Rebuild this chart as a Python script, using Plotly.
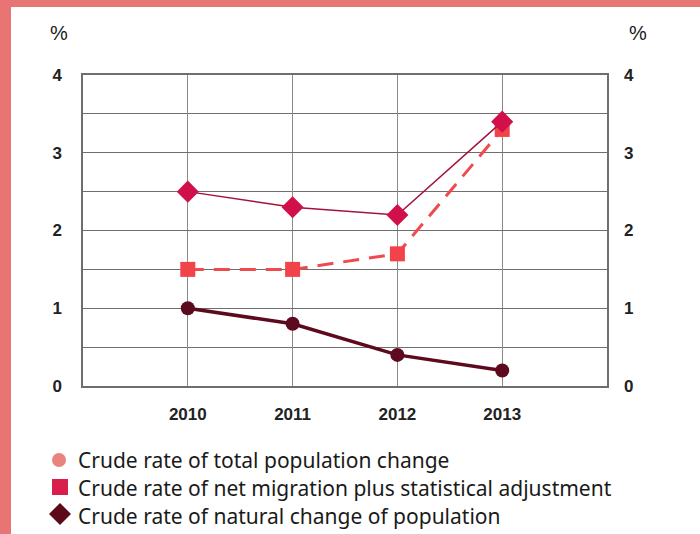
import plotly.graph_objects as go

# Years and series values (%)
years = [2010, 2011, 2012, 2013]
total_change = [2.5, 2.3, 2.2, 3.4]
net_migration = [1.5, 1.5, 1.7, 3.3]
natural_change = [1.0, 0.8, 0.4, 0.2]

y_ticks = [0, 1, 2, 3, 4]
x_tickvals = [2009, 2010, 2011, 2012, 2013, 2014]
x_ticktext = ["", "2010", "2011", "2012", "2013", ""]

legend_labels = [
    "Crude rate of total population change",
    "Crude rate of net migration plus statistical adjustment",
    "Crude rate of natural change of population",
]

W, H = 700, 534
ML, MR, MT, MB = 83, 93, 75, 148
PW, PH = W - ML - MR, H - MT - MB


def px_x(px):
    return (px - ML) / PW


def px_y(py):
    return (H - MB - py) / PH


fig = go.Figure()

fig.add_trace(go.Scatter(
    x=years, y=natural_change, mode="lines+markers",
    line=dict(color="#5E0A1E", width=3.5),
    marker=dict(symbol="circle", size=14, color="#5E0A1E"),
    showlegend=False,
))
fig.add_trace(go.Scatter(
    x=years, y=net_migration, mode="lines+markers",
    line=dict(color="#F04A4F", width=3, dash="16px,10px"),
    marker=dict(symbol="square", size=15, color="#F2434A"),
    showlegend=False,
))
fig.add_trace(go.Scatter(
    x=years, y=total_change, mode="lines+markers",
    line=dict(color="#A3123F", width=1.5),
    marker=dict(symbol="diamond", size=17, color="#D1104A"),
    showlegend=False,
))
# invisible trace so the right-hand axis is drawn
fig.add_trace(go.Scatter(
    x=[2009], y=[0], yaxis="y2", mode="markers",
    marker=dict(opacity=0), showlegend=False, hoverinfo="skip",
))

tick_font = dict(family="Liberation Sans", size=17, color="#222222", weight="bold")

fig.update_layout(
    width=W, height=H,
    margin=dict(l=ML, r=MR, t=MT, b=MB),
    paper_bgcolor="white", plot_bgcolor="white",
    xaxis=dict(
        range=[2009, 2014], tickmode="array",
        tickvals=x_tickvals, ticktext=x_ticktext,
        showgrid=True, gridcolor="#8A8A8A", gridwidth=1,
        showline=True, linecolor="#6E6E6E", linewidth=1.5, mirror=True,
        zeroline=False, ticks="", ticklabelstandoff=12,
        tickfont=tick_font,
    ),
    yaxis=dict(
        range=[0, 4], tickmode="array", tickvals=y_ticks,
        showgrid=True, gridcolor="#6E6E6E", gridwidth=1,
        minor=dict(dtick=0.5, showgrid=True, gridcolor="#6E6E6E", gridwidth=1),
        showline=True, linecolor="#6E6E6E", linewidth=1.5, mirror=True,
        zeroline=False, ticks="", ticklabelstandoff=16,
        tickfont=tick_font,
    ),
    yaxis2=dict(
        range=[0, 4], tickmode="array", tickvals=y_ticks,
        overlaying="y", side="right", showgrid=False, zeroline=False,
        showline=False, ticks="", ticklabelstandoff=16,
        tickfont=tick_font,
    ),
)

shapes = []
# salmon frame along the top and left edges
frame = "#E87474"
shapes.append(dict(type="rect", xref="paper", yref="paper",
                   x0=px_x(0), x1=px_x(W), y0=px_y(0), y1=px_y(7),
                   fillcolor=frame, line=dict(width=0), layer="below"))
shapes.append(dict(type="rect", xref="paper", yref="paper",
                   x0=px_x(0), x1=px_x(11), y0=px_y(0), y1=px_y(H),
                   fillcolor=frame, line=dict(width=0), layer="below"))

# legend keys
shapes.append(dict(type="circle", xref="paper", yref="paper",
                   x0=px_x(52), x1=px_x(66), y0=px_y(453), y1=px_y(467),
                   fillcolor="#E8837F", line=dict(width=0)))
shapes.append(dict(type="rect", xref="paper", yref="paper",
                   x0=px_x(52), x1=px_x(68), y0=px_y(479), y1=px_y(495),
                   fillcolor="#D81E4A", line=dict(width=0)))
cx, cy, r = 60, 514, 11
diamond = "M {} {} L {} {} L {} {} L {} {} Z".format(
    px_x(cx), px_y(cy - r), px_x(cx + r), px_y(cy),
    px_x(cx), px_y(cy + r), px_x(cx - r), px_y(cy))
shapes.append(dict(type="path", xref="paper", yref="paper", path=diamond,
                   fillcolor="#5C0A18", line=dict(width=0)))
fig.update_layout(shapes=shapes)

annotations = []
for label, py in zip(legend_labels, [460, 488, 516]):
    annotations.append(dict(
        x=px_x(76), y=px_y(py), xref="paper", yref="paper",
        xanchor="left", yanchor="middle", showarrow=False, text=label,
        font=dict(family="Noto Sans", size=21, color="#1A1A1A"),
    ))
for px in (59, 638):
    annotations.append(dict(
        x=px_x(px), y=px_y(33), xref="paper", yref="paper",
        xanchor="center", yanchor="middle", showarrow=False, text="%",
        font=dict(family="Liberation Sans", size=20, color="#1A1A1A"),
    ))
fig.update_layout(annotations=annotations)

fig.write_html("out.html")
